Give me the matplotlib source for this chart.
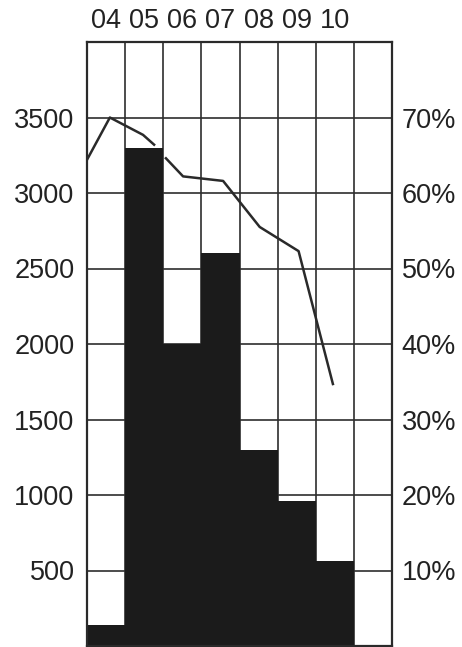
import numpy as np
import matplotlib
matplotlib.use("Agg")
import matplotlib.pyplot as plt

years = ['04', '05', '06', '07', '08', '09', '10']
values = [140, 3300, 2000, 2600, 1300, 960, 560]

# percentage curve (x in column units, NaN marks the break in the printed line)
share_pos = [-0.5, 0.1, 0.97, 1.26, np.nan, 1.57, 2.02, 3.07, 4.03, 5.05, 5.95]
share_pct = [64.4, 70.0, 67.7, 66.4, np.nan, 64.6, 62.2, 61.6, 55.5, 52.3, 34.7]

left_ticks = [500, 1000, 1500, 2000, 2500, 3000, 3500]
right_ticks = [10, 20, 30, 40, 50, 60, 70]

plt.rcParams['font.family'] = ['Liberation Sans', 'DejaVu Sans']

fig = plt.figure(figsize=(4.62, 6.47), dpi=100)
ax = fig.add_axes([87/462, 1/647, 305/462, 604/647])

x = np.arange(len(years))
ax.bar(x, values, width=1.0, color='#1b1b1b', zorder=2)

ax.set_xlim(-0.5, 7.5)
ax.set_ylim(0, 4000)

ax.set_xticks(x)
ax.set_xticklabels(years, fontsize=19.5)
ax.set_xticks(np.arange(-0.5, 8.0, 1.0), minor=True)
ax.xaxis.tick_top()
ax.tick_params(axis='x', which='both', length=0, pad=6, colors='#222222')
ax.grid(True, which='minor', axis='x', color='#2e2e2e', lw=1.2)

ax.set_yticks(left_ticks)
ax.set_yticklabels([str(v) for v in left_ticks], fontsize=19.5)
ax.tick_params(axis='y', length=0, pad=9, colors='#222222')
ax.grid(True, which='major', axis='y', color='#2e2e2e', lw=1.2)
ax.set_axisbelow(True)

for s in ax.spines.values():
    s.set_color('#2a2a2a')
    s.set_linewidth(1.6)

ax2 = ax.twinx()
ax2.set_ylim(0, 80)
ax2.set_yticks(right_ticks)
ax2.set_yticklabels([f"{v}%" for v in right_ticks], fontsize=19.5)
ax2.tick_params(axis='y', length=0, pad=7, colors='#222222')
for s in ax2.spines.values():
    s.set_visible(False)

ax2.plot(share_pos, share_pct, color='#2a2a2a', lw=1.8, zorder=3)

fig.savefig('out.png', dpi=100)
